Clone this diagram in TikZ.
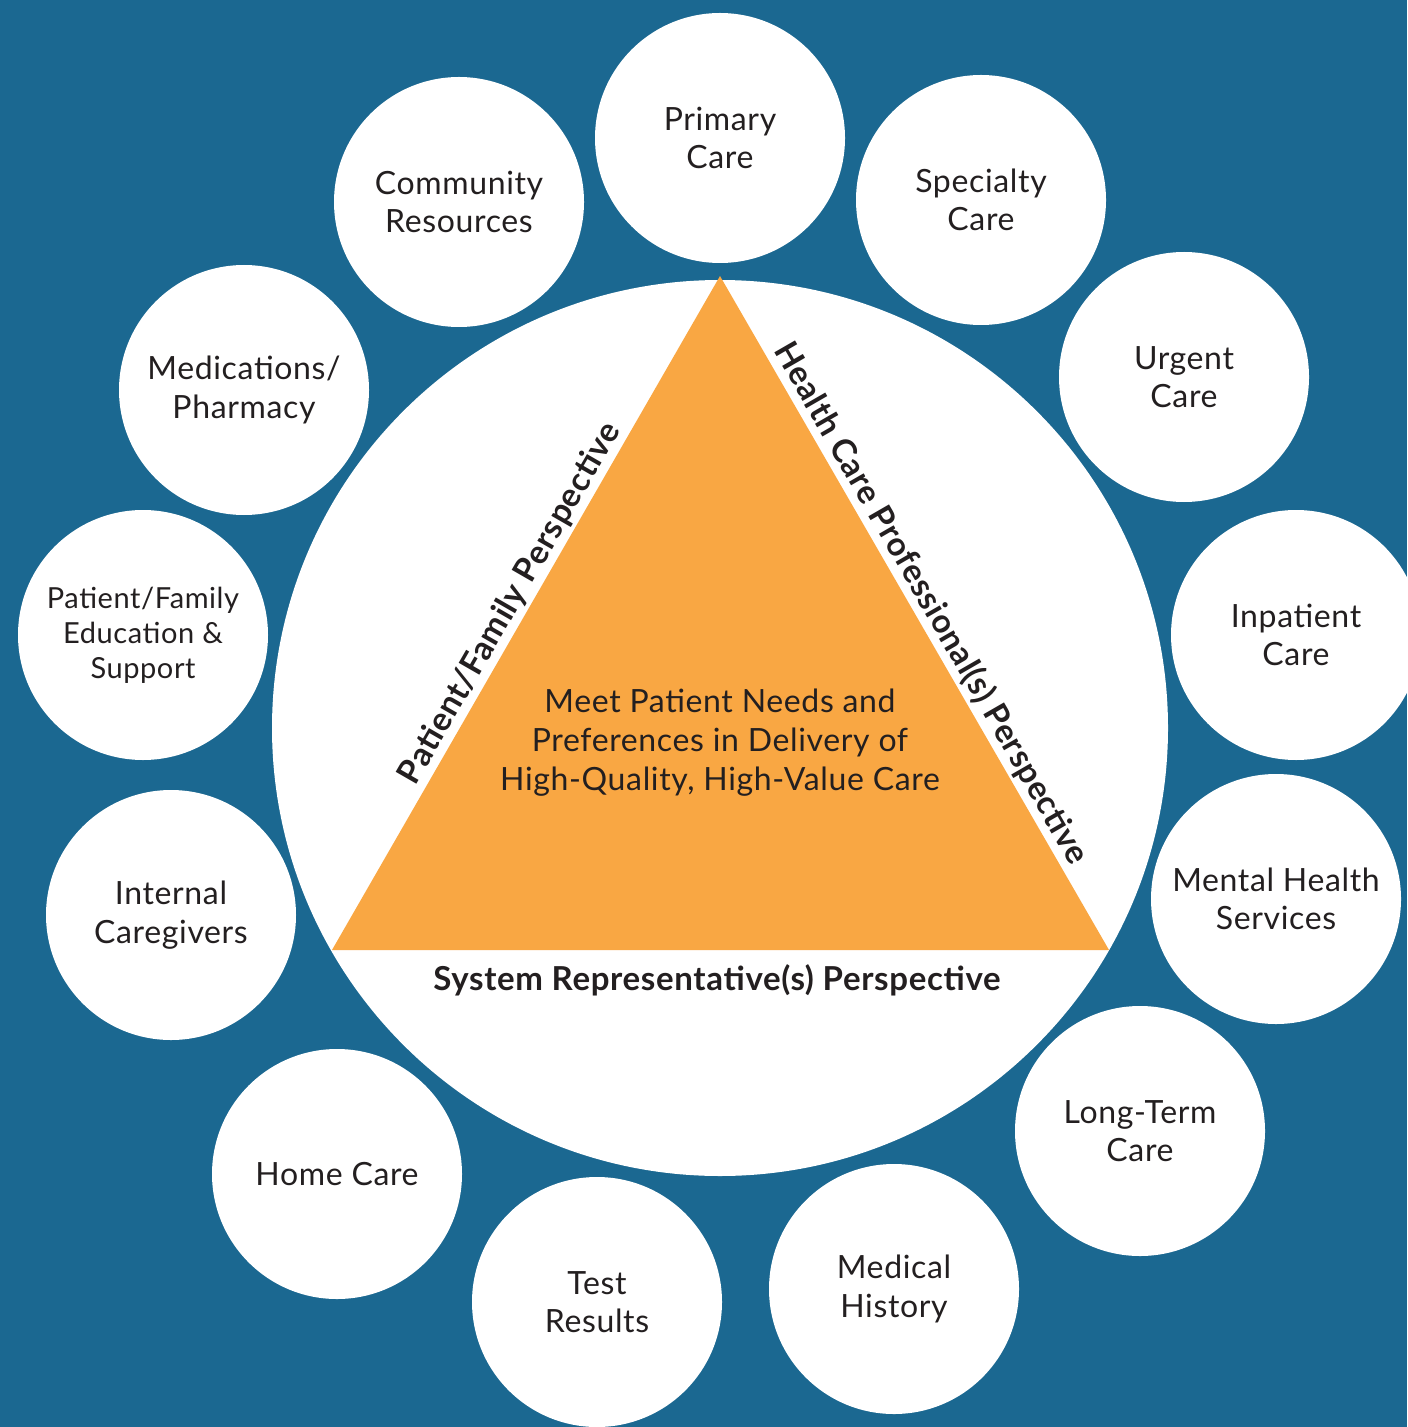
\documentclass[tikz,border=0pt]{standalone}
\usepackage{fontspec}
\setmainfont{Lato}
\definecolor{bg}{HTML}{1B6891}
\definecolor{tri}{HTML}{F9A743}
\definecolor{ink}{HTML}{231F20}
\begin{document}
\begin{tikzpicture}[x=0.5pt,y=-0.5pt,
  bubble/.style={circle,fill=white,minimum size=125pt,inner sep=0pt,align=center,text=ink,
    font=\fontsize{16pt}{19.3pt}\selectfont\addfontfeature{LetterSpace=2}},
  smallbubble/.style={bubble,font=\fontsize{14.5pt}{17.5pt}\selectfont\addfontfeature{LetterSpace=2}},
  persp/.style={text=ink,inner sep=1.5pt,font=\fontsize{16.5pt}{20pt}\selectfont\bfseries\addfontfeature{LetterSpace=2}},
  goal/.style={text=ink,align=center,font=\fontsize{16pt}{19.5pt}\selectfont\addfontfeature{LetterSpace=2}}]
\useasboundingbox (0,0) rectangle (1407,1427);
\clip (0,0) rectangle (1407,1427);
\fill[bg] (0,0) rectangle (1407,1427);
% central circle
\node[circle,fill=white,minimum size=448pt,inner sep=0pt] (hub) at (720,728) {};
% triangle
\coordinate (apex) at (720,276);
\coordinate (bl) at (332,950);
\coordinate (br) at (1109,950);
\fill[tri] (apex) -- (br) -- (bl) -- cycle;
\path (bl) -- (apex) node[pos=0.50,sloped,above,persp] (pf) {Patient/Family Perspective};
\path (apex) -- (br) node[pos=0.50,sloped,above,persp] (hc) {Health Care Professional(s) Perspective};
\node[persp] (sr) at (717,980) {System Representative(s) Perspective};
\node[goal] (goaltext) at (720,743) {Meet Patient Needs and\\Preferences in Delivery of\\High-Quality, High-Value Care};
% outer bubbles
\node[bubble] (primary) at (720,138) {Primary\\Care};
\node[bubble] (specialty) at (981,200) {Specialty\\Care};
\node[bubble] (urgent) at (1184,377) {Urgent\\Care};
\node[bubble] (inpatient) at (1296,635) {Inpatient\\Care};
\node[bubble] (mental) at (1276,899) {Mental Health\\Services};
\node[bubble] (longterm) at (1140,1131) {Long-Term\\Care};
\node[bubble] (history) at (894,1289) {Medical\\History};
\node[bubble] (tests) at (597,1302) {Test\\Results};
\node[bubble] (home) at (337,1174) {Home Care};
\node[bubble] (internal) at (171,915) {Internal\\Caregivers};
\node[smallbubble] (education) at (143,635) {Patient/Family\\Education \&\\Support};
\node[bubble] (meds) at (244,390) {Medications/\\Pharmacy};
\node[bubble] (community) at (459,202) {Community\\Resources};
\end{tikzpicture}
\end{document}
